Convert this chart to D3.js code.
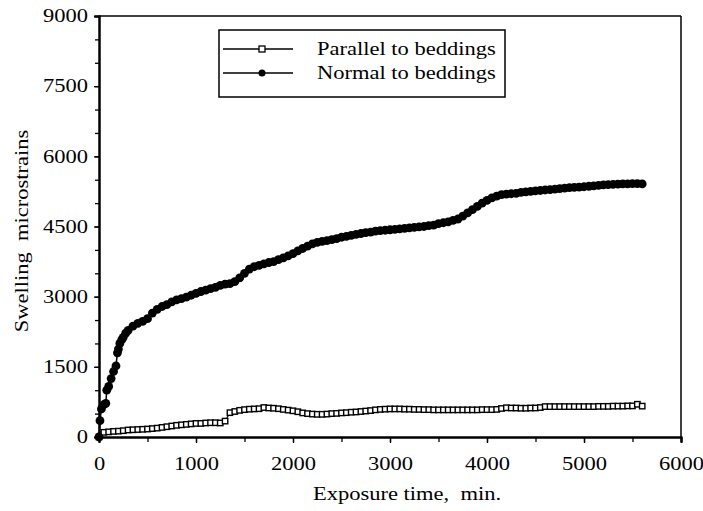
<!DOCTYPE html>
<html lang="en">
<head>
    <meta charset="UTF-8">
    <script src="https://d3js.org/d3.v7.min.js"></script>
    <title>Swelling strain</title>
    <style>
        body { margin: 0; background: white; }
        svg text { font-family: "Liberation Serif", "DejaVu Serif", "Noto Serif", serif; fill: black; }
    </style>
</head>
<body>
    <div class="fig"></div>

    <script>
        // parallel to beddings (open squares)
        const parallelTime = [0, 50, 100, 150, 200, 250, 300, 350, 400, 450, 500, 550, 600, 650, 700, 750, 800, 850, 900, 950,
            1000, 1050, 1100, 1150, 1200, 1250, 1300, 1350, 1400, 1450, 1500, 1550, 1600, 1650, 1700, 1750, 1800, 1850, 1900, 1950,
            2000, 2050, 2100, 2150, 2200, 2250, 2300, 2350, 2400, 2450, 2500, 2550, 2600, 2650, 2700, 2750, 2800, 2850, 2900, 2950,
            3000, 3050, 3100, 3150, 3200, 3250, 3300, 3350, 3400, 3450, 3500, 3550, 3600, 3650, 3700, 3750, 3800, 3850, 3900, 3950,
            4000, 4050, 4100, 4150, 4200, 4250, 4300, 4350, 4400, 4450, 4500, 4550, 4600, 4650, 4700, 4750, 4800, 4850, 4900, 4950,
            5000, 5050, 5100, 5150, 5200, 5250, 5300, 5350, 5400, 5450, 5500, 5550, 5600];
        const parallelStrain = [0, 100, 110, 120, 125, 135, 150, 155, 160, 165, 170, 180, 190, 205, 220, 235, 250, 260, 270, 280,
            290, 290, 300, 305, 305, 300, 340, 520, 545, 570, 585, 595, 600, 605, 630, 620, 615, 605, 590, 575,
            560, 540, 515, 500, 490, 485, 485, 490, 500, 505, 515, 520, 530, 535, 545, 555, 565, 580, 590, 595,
            600, 600, 600, 595, 595, 590, 590, 585, 585, 580, 580, 580, 580, 580, 580, 580, 580, 580, 580, 585,
            585, 585, 590, 610, 625, 620, 620, 615, 615, 620, 620, 630, 650, 650, 650, 650, 650, 650, 650, 650,
            650, 650, 650, 655, 655, 655, 660, 660, 660, 665, 665, 700, 660];

        // normal to beddings (filled circles)
        const normalTime = [0, 10, 25, 50, 70, 80, 100, 125, 150, 175, 190, 200, 215, 235, 250, 275, 300, 350, 400, 450,
            500, 550, 600, 650, 700, 750, 800, 850, 900, 950, 1000, 1050, 1100, 1150, 1200, 1250, 1300, 1350, 1400, 1450,
            1500, 1550, 1600, 1650, 1700, 1750, 1800, 1850, 1900, 1950, 2000, 2050, 2100, 2150, 2200, 2250, 2300, 2350, 2400, 2450,
            2500, 2550, 2600, 2650, 2700, 2750, 2800, 2850, 2900, 2950, 3000, 3050, 3100, 3150, 3200, 3250, 3300, 3350, 3400, 3450,
            3500, 3550, 3600, 3650, 3700, 3750, 3800, 3850, 3900, 3950, 4000, 4050, 4100, 4150, 4200, 4250, 4300, 4350, 4400, 4450,
            4500, 4550, 4600, 4650, 4700, 4750, 4800, 4850, 4900, 4950, 5000, 5050, 5100, 5150, 5200, 5250, 5300, 5350, 5400, 5450,
            5500, 5550, 5600];
        const normalStrain = [0, 350, 600, 690, 720, 1000, 1080, 1250, 1400, 1520, 1800, 1880, 2000, 2080, 2130, 2220, 2280, 2370, 2430, 2470,
            2530, 2650, 2730, 2790, 2830, 2890, 2930, 2960, 2990, 3030, 3070, 3110, 3140, 3170, 3200, 3240, 3270, 3280, 3320, 3400,
            3500, 3590, 3640, 3670, 3700, 3730, 3750, 3790, 3830, 3870, 3920, 3980, 4030, 4080, 4130, 4160, 4180, 4200, 4220, 4240,
            4270, 4290, 4310, 4330, 4350, 4370, 4380, 4400, 4410, 4420, 4430, 4440, 4450, 4460, 4470, 4480, 4490, 4500, 4520, 4530,
            4560, 4580, 4600, 4630, 4660, 4720, 4790, 4860, 4930, 5000, 5060, 5110, 5150, 5180, 5190, 5200, 5210, 5230, 5240, 5250,
            5260, 5270, 5280, 5290, 5300, 5310, 5320, 5330, 5335, 5340, 5350, 5360, 5370, 5380, 5390, 5395, 5400, 5405, 5410, 5410,
            5415, 5415, 5410];

        const xTicks = [0, 1000, 2000, 3000, 4000, 5000, 6000];
        const yTicks = [0, 1500, 3000, 4500, 6000, 7500, 9000];
        const legendLabels = ["Parallel to beddings", "Normal to beddings"];

        const width = 703, height = 511;
        const margin = { left: 99, right: 22, top: 16, bottom: 74 };
        const serif = "'Liberation Serif', 'DejaVu Serif', 'Noto Serif', serif";
        const stretch = 1.25;   // the scanned type is wider than Times

        // widen a text along its own direction, keeping its anchor
        function widen(sel) {
            sel.each(function () {
                const w = this.getComputedTextLength();
                if (w > 0) {
                    d3.select(this)
                        .attr("textLength", w * stretch)
                        .attr("lengthAdjust", "spacingAndGlyphs");
                }
            });
        }

        const svg = d3.select(".fig").append("svg")
            .attr("width", width)
            .attr("height", height);

        const x = d3.scaleLinear().domain([0, 6000]).range([margin.left, width - margin.right]);
        const y = d3.scaleLinear().domain([0, 9000]).range([height - margin.bottom, margin.top]);

        // frame (top + right)
        svg.append("line")
            .attr("x1", x(0)).attr("x2", x(6000)).attr("y1", y(9000)).attr("y2", y(9000))
            .attr("stroke", "black").attr("stroke-width", 1.5);
        svg.append("line")
            .attr("x1", x(6000)).attr("x2", x(6000)).attr("y1", y(9000)).attr("y2", y(0))
            .attr("stroke", "black").attr("stroke-width", 1.5);

        // minor ticks every 500
        const xAxisMinor = d3.axisBottom(x).tickValues(d3.range(0, 6001, 500)).tickSize(5).tickFormat("");
        const yAxisMinor = d3.axisLeft(y).tickValues(d3.range(0, 9001, 500)).tickSize(4).tickFormat("");

        const xAxis = d3.axisBottom(x).tickValues(xTicks).tickSize(6).tickPadding(14).tickFormat(d3.format("d"));
        const yAxis = d3.axisLeft(y).tickValues(yTicks).tickSize(5).tickPadding(6).tickFormat(d3.format("d"));

        const gx = svg.append("g").attr("transform", `translate(0,${y(0)})`);
        gx.call(xAxisMinor);
        gx.append("g").call(xAxis);
        const gy = svg.append("g").attr("transform", `translate(${x(0)},0)`);
        gy.call(yAxisMinor);
        gy.append("g").call(yAxis);

        svg.selectAll("g").attr("font-family", serif);
        svg.selectAll(".domain").attr("stroke", "black").attr("stroke-width", 2);
        svg.selectAll(".tick line").attr("stroke", "black").attr("stroke-width", 1.3);
        svg.selectAll(".tick text")
            .attr("font-family", serif)
            .attr("font-size", 18)
            .attr("fill", "black")
            .call(widen);

        // axis titles
        svg.append("text")
            .attr("x", 407)
            .attr("y", 500)
            .attr("text-anchor", "middle")
            .attr("font-family", serif)
            .attr("font-size", 18)
            .style("white-space", "pre")
            .text("Exposure time,  min.")
            .call(widen);

        svg.append("text")
            .attr("transform", `translate(28,${231}) rotate(-90)`)
            .attr("text-anchor", "middle")
            .attr("font-family", serif)
            .attr("font-size", 18)
            .style("white-space", "pre")
            .text("Swelling  microstrains")
            .call(widen);

        const lineGen = d3.line().x(d => x(d[0])).y(d => y(d[1]));

        const parallelData = parallelTime.map((t, i) => [t, parallelStrain[i]]);
        const normalData = normalTime.map((t, i) => [t, normalStrain[i]]);

        // parallel series
        svg.append("path")
            .datum(parallelData)
            .attr("d", lineGen)
            .attr("fill", "none")
            .attr("stroke", "black")
            .attr("stroke-width", 1.2);
        svg.selectAll(".sq")
            .data(parallelData)
            .enter()
            .append("rect")
            .attr("class", "sq")
            .attr("x", d => x(d[0]) - 2.7)
            .attr("y", d => y(d[1]) - 2.7)
            .attr("width", 5.4)
            .attr("height", 5.4)
            .attr("fill", "white")
            .attr("stroke", "black")
            .attr("stroke-width", 1.4);

        // normal series
        svg.append("path")
            .datum(normalData)
            .attr("d", lineGen)
            .attr("fill", "none")
            .attr("stroke", "black")
            .attr("stroke-width", 1.5);
        svg.selectAll(".dot")
            .data(normalData)
            .enter()
            .append("circle")
            .attr("class", "dot")
            .attr("cx", d => x(d[0]))
            .attr("cy", d => y(d[1]))
            .attr("r", 4.4)
            .attr("fill", "black");

        // legend
        const legend = svg.append("g");
        legend.append("rect")
            .attr("x", 219).attr("y", 30)
            .attr("width", 286).attr("height", 67)
            .attr("fill", "white")
            .attr("stroke", "black")
            .attr("stroke-width", 1.5);

        legendLabels.forEach((label, i) => {
            const ly = 49 + i * 24;
            legend.append("line")
                .attr("x1", 223).attr("x2", 293).attr("y1", ly).attr("y2", ly)
                .attr("stroke", "black").attr("stroke-width", 1.3);
            if (i === 0) {
                legend.append("rect")
                    .attr("x", 259).attr("y", ly - 3)
                    .attr("width", 6).attr("height", 6)
                    .attr("fill", "white").attr("stroke", "black").attr("stroke-width", 1.3);
            } else {
                legend.append("circle")
                    .attr("cx", 262).attr("cy", ly).attr("r", 3.5).attr("fill", "black");
            }
            legend.append("text")
                .attr("x", 317)
                .attr("y", ly + 6)
                .attr("font-family", serif)
                .attr("font-size", 18)
                .text(label)
                .call(widen);
        });
    </script>
</body>
</html>
